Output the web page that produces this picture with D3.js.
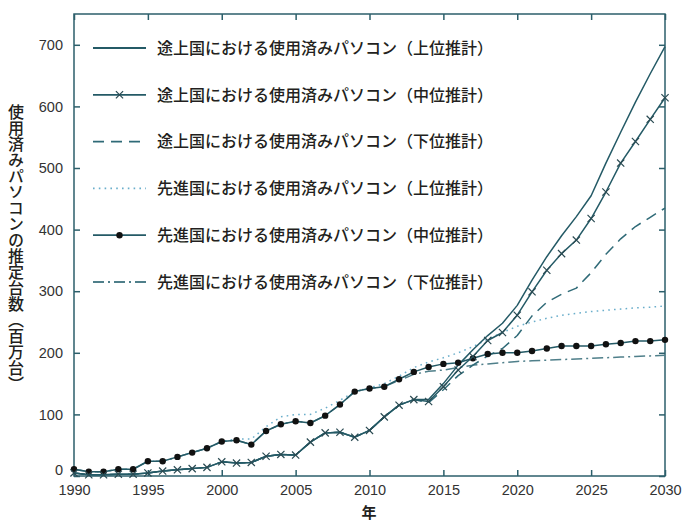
<!DOCTYPE html>
<html><head><meta charset="utf-8">
<script src="https://cdn.jsdelivr.net/npm/d3@7"></script>
<style>
html,body{margin:0;padding:0;background:#fff;}
svg{display:block;}
</style></head>
<body>
<svg id="chart" width="682" height="526"></svg>
<script>
const years = d3.range(1990, 2031);
const devingHigh = [5,2,2,3,3,5,8,10,12,14,23,21,22,32,35,34,55,70,71,63,74,96,115,124,124,150,180,205,228,248,277,318,356,390,421,455,508,558,607,653,697];
const devingMid  = [5,2,2,3,3,5,8,10,12,14,23,21,22,32,35,34,55,70,71,63,74,96,115,124,121,145,172,194,220,233,261,299,334,361,383,418,461,508,543,579,614];
const devingLow  = [5,2,2,3,3,5,8,10,12,14,23,21,22,32,35,34,55,70,71,63,74,96,115,124,119,140,163,180,195,207,228,260,282,295,305,330,360,385,405,420,435];
const devdHigh   = [11,7,7,11,11,24,24,31,38,45,56,60,60,80,96,100,100,110,123,137,143,150,162,176,185,192,200,210,222,233,243,250,256,261,264,267,269,271,273,274,276];
const devdMid    = [11,7,7,11,11,24,24,31,38,45,56,58,51,73,84,89,86,98,116,137,142,145,157,169,177,182,184,191,198,200,200,203,207,211,211,211,214,216,219,219,221];
const devdLow    = [11,7,7,11,11,24,24,31,38,45,56,58,51,73,84,89,86,98,116,137,142,145,155,165,170,172,176,180,182,184,186,187,188,189,190,191,192,193,194,195,196];
const seriesNames = [
  "途上国における使用済みパソコン（上位推計）",
  "途上国における使用済みパソコン（中位推計）",
  "途上国における使用済みパソコン（下位推計）",
  "先進国における使用済みパソコン（上位推計）",
  "先進国における使用済みパソコン（中位推計）",
  "先進国における使用済みパソコン（下位推計）"
];
const xTicks = [1990,1995,2000,2005,2010,2015,2020,2025,2030];
const yTicks = [0,100,200,300,400,500,600,700];
const yTitle = "使用済みパソコンの推定台数（百万台）";
const xTitle = "年";

const axisColor = "#2c5f6b";
const styles = [
  {color:"#245a66", dash:null, marker:null},
  {color:"#245a66", dash:null, marker:"x"},
  {color:"#2f6a77", dash:"11,7", marker:null},
  {color:"#6aaecb", dash:"1.6,4.2", marker:null},
  {color:"#245a66", dash:null, marker:"dot"},
  {color:"#4f7f8a", dash:"11,4,2,4", marker:null}
];
const data = [devingHigh, devingMid, devingLow, devdHigh, devdMid, devdLow];

const svg = d3.select("#chart");
const L = 74, R = 665, T = 14, B = 476;
const x = d3.scaleLinear().domain([1990, 2030]).range([L, R]);
const y = d3.scaleLinear().domain([0, 750]).range([B, T]);

// frame
svg.append("rect").attr("x", L).attr("y", T).attr("width", R-L).attr("height", B-T)
  .attr("fill", "none").attr("stroke", axisColor).attr("stroke-width", 1.5);

const tickFont = "'Liberation Sans', Arial, sans-serif";
const xb = svg.append("g").attr("transform", `translate(0,${B})`)
  .call(d3.axisBottom(x).tickValues(xTicks).tickFormat(d3.format("d")).tickSizeInner(-6).tickSizeOuter(0).tickPadding(10));
const xt = svg.append("g").attr("transform", `translate(0,${T})`)
  .call(d3.axisTop(x).tickValues(xTicks).tickFormat("").tickSizeInner(-6).tickSizeOuter(0));
const yl = svg.append("g").attr("transform", `translate(${L},0)`)
  .call(d3.axisLeft(y).tickValues(yTicks).tickSizeInner(-6).tickSizeOuter(0).tickPadding(11));
const yr = svg.append("g").attr("transform", `translate(${R},0)`)
  .call(d3.axisRight(y).tickValues(yTicks).tickFormat("").tickSizeInner(-6).tickSizeOuter(0));
[xb, xt, yl, yr].forEach(g => {
  g.select(".domain").remove();
  g.selectAll(".tick line").attr("stroke", axisColor).attr("stroke-width", 1.5);
  g.selectAll("text").attr("fill", "#333").style("font-family", tickFont).style("font-size", "14.5px");
});
xb.selectAll("text").attr("dy", "0.62em");
yl.selectAll(".tick").filter(d => d === 0).select("text").attr("dy", "-0.12em");

// lines
const line = d3.line().x((d, i) => x(years[i])).y(d => y(d));
const order = [3,5,2,0,4,1];
order.forEach(k => {
  const s = styles[k];
  svg.append("path").datum(data[k]).attr("d", line)
    .attr("fill", "none").attr("stroke", s.color).attr("stroke-width", 1.5)
    .attr("stroke-dasharray", s.dash).attr("stroke-linejoin", "round");
  if (s.marker === "dot") {
    svg.append("g").selectAll("circle").data(data[k]).join("circle")
      .attr("cx", (d, i) => x(years[i])).attr("cy", d => y(d)).attr("r", 3.2).attr("fill", "#111");
  } else if (s.marker === "x") {
    svg.append("g").selectAll("path").data(data[k]).join("path")
      .attr("d", (d, i) => { const cx = x(years[i]), cy = y(d), r = 3.6;
        return `M${cx-r},${cy-r}L${cx+r},${cy+r}M${cx-r},${cy+r}L${cx+r},${cy-r}`; })
      .attr("stroke", "#2a4a52").attr("stroke-width", 1.2).attr("fill", "none");
  }
});

// legend
const legY0 = 48, legDy = 46.8;
const leg = svg.append("g");
seriesNames.forEach((name, k) => {
  const s = styles[k];
  const ly = legY0 + k * legDy;
  leg.append("line").attr("x1", 93).attr("x2", 146).attr("y1", ly).attr("y2", ly)
    .attr("stroke", s.color).attr("stroke-width", 1.8).attr("stroke-dasharray", s.dash);
  if (s.marker === "dot") {
    leg.append("circle").attr("cx", 119.5).attr("cy", ly).attr("r", 3.2).attr("fill", "#111");
  } else if (s.marker === "x") {
    const r = 3.6, cx = 119.5;
    leg.append("path").attr("d", `M${cx-r},${ly-r}L${cx+r},${ly+r}M${cx-r},${ly+r}L${cx+r},${ly-r}`)
      .attr("stroke", "#2a4a52").attr("stroke-width", 1.2);
  }
  leg.append("text").attr("x", 157).attr("y", ly).attr("dy", "0.36em")
    .style("font-family", "'Noto Sans CJK JP', sans-serif").style("font-size", "16px").style("font-weight", 500)
    .attr("fill", "#231f20").text(name);
});

// axis titles
svg.append("text").attr("x", 16).attr("y", 248).attr("text-anchor", "middle")
  .style("writing-mode", "vertical-rl").style("font-family", "'Noto Sans CJK JP', sans-serif")
  .style("font-size", "16px").style("font-weight", 500).attr("fill", "#231f20").text(yTitle);
svg.append("text").attr("x", 369).attr("y", 513).attr("dy", "0.36em").attr("text-anchor", "middle")
  .style("font-family", "'Noto Sans CJK JP', sans-serif").style("font-size", "15px").style("font-weight", 700)
  .attr("fill", "#231f20").text(xTitle);
</script>
</body></html>
